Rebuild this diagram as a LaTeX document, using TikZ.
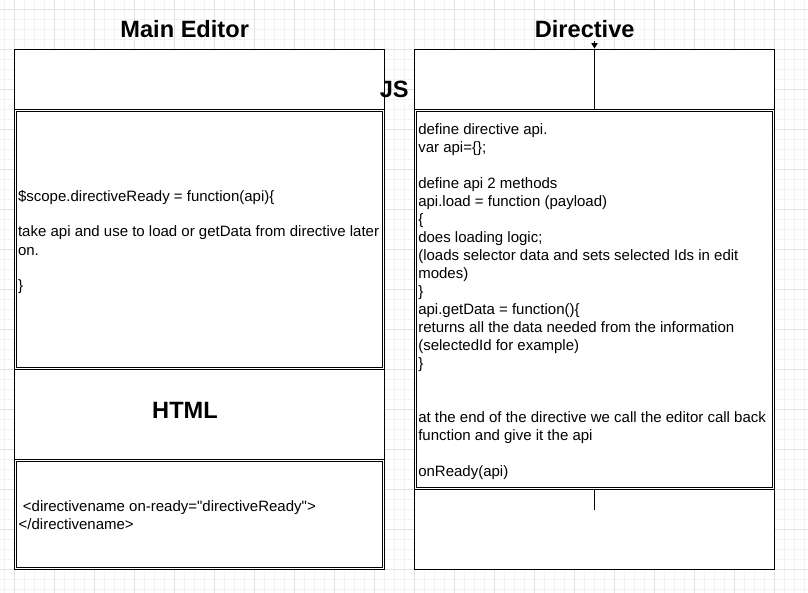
\documentclass[tikz,border=0pt]{standalone}
\usepackage{fontspec}
\setmainfont{Liberation Sans}
\usepackage{xcolor}
\usetikzlibrary{arrows.meta}

\definecolor{gridminor}{HTML}{F3F3F3}
\definecolor{gridmajor}{HTML}{E2E2E2}

\tikzset{
    box/.style={draw=black, line width=0.9pt, fill=white},
    inner/.style={draw=black, line width=0.8pt},
    heading/.style={font=\fontsize{17.7}{21}\selectfont\bfseries, inner sep=0pt, anchor=base},
    code/.style={font=\fontsize{11.25}{13.5}\selectfont, align=left, inner sep=0pt, anchor=west}
}

\begin{document}
\begin{tikzpicture}[x=0.75pt, y=-0.75pt]
        \useasboundingbox (0, 0) rectangle (808, 593);

        \foreach \gx in {4.5, 14.5, ..., 804.5}
            \draw[gridminor, line width=0.6pt] (\gx, 0) -- (\gx, 593);
        \foreach \gy in {9.5, 19.5, ..., 589.5}
            \draw[gridminor, line width=0.6pt] (0, \gy) -- (808, \gy);
        \foreach \gx in {14.5, 54.5, ..., 774.5}
            \draw[gridmajor, line width=0.75pt] (\gx, 0) -- (\gx, 593);
        \foreach \gy in {9.5, 49.5, ..., 569.5}
            \draw[gridmajor, line width=0.75pt] (0, \gy) -- (808, \gy);

        \draw[box] (14.5, 49.5) rectangle (384.5, 109.5);
        \draw[box] (14.5, 109.5) rectangle (384.5, 369.5);
        \draw[inner] (16.5, 111.5) rectangle (382.5, 367.5);
        \draw[box] (14.5, 369.5) rectangle (384.5, 459.5);
        \draw[box] (14.5, 459.5) rectangle (384.5, 569.5);
        \draw[inner] (16.5, 461.5) rectangle (382.5, 567.5);

        \draw[box] (414.5, 49.5) rectangle (774.5, 109.5);
        \draw[box] (414.5, 489.5) rectangle (774.5, 569.5);

        \coordinate (apiStart) at (594.5, 41);
        \coordinate (apiTip) at (594.5, 48.5);
        \coordinate (apiEnd) at (594.5, 109.5);
        \coordinate (readyStart) at (594.5, 489.5);
        \coordinate (readyEnd) at (594.5, 509.5);
        \draw[line width=0.9pt, -{Triangle[length=4pt, width=4.6pt]}] (apiStart) -- (apiTip);
        \draw[line width=0.9pt] (apiTip) -- (apiEnd);
        \draw[line width=0.9pt] (readyStart) -- (readyEnd);

        \draw[box] (414.5, 109.5) rectangle (774.5, 489.5);
        \draw[inner] (416.5, 111.5) rectangle (772.5, 487.5);

        \node[heading] (mainTitle) at (184.7, 37.7) {Main Editor};
        \node[heading] (dirTitle) at (584.7, 37.7) {Directive};
        \node[heading] (jsTitle) at (394.2, 97.7) {JS};
        \node[heading] (htmlTitle) at (185, 418.3) {HTML};

        \node[code] (editorJs) at (17.8, 242) {\$scope.directiveReady = function(api)\{\\
            \mbox{}\\
            take api and use to load or getData from directive later\\
            on.\\
            \mbox{}\\
            \}};

        \node[code] (editorHtml) at (18.4, 515.5) {\hspace*{3.2pt}<directivename on-ready=\textquotedbl directiveReady\textquotedbl>\\
            </directivename>};

        \node[code] (dirJs) at (418, 302) {define directive api.\\
            var api=\{\};\\
            \mbox{}\\
            define api 2 methods\\
            api.load = function (payload)\\
            \{\\
            does loading logic;\\
            (loads selector data and sets selected Ids in edit\\
            modes)\\
            \}\\
            api.getData = function()\{\\
            returns all the data needed from the information\\
            (selectedId for example)\\
            \}\\
            \mbox{}\\
            \mbox{}\\
            at the end of the directive we call the editor call back\\
            function and give it the api\\
            \mbox{}\\
            onReady(api)};
\end{tikzpicture}
\end{document}
